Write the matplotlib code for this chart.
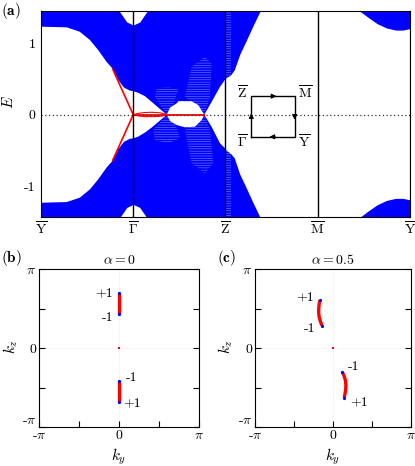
import numpy as np
import matplotlib
matplotlib.use('Agg')
import matplotlib.pyplot as plt

plt.rcParams['font.family'] = 'serif'
plt.rcParams['font.serif'] = ['cmr10']
plt.rcParams['mathtext.fontset'] = 'cm'
plt.rcParams['axes.unicode_minus'] = False
plt.rcParams['hatch.linewidth'] = 0.45
plt.rcParams['font.size'] = 10

# ---------------- (a) slab spectrum along Y-G-Z-M-Y ----------------
k_ticks = [0, 1, 2, 3, 4]
k_labels = [r'$\overline{\mathrm{Y}}$', r'$\overline{\Gamma}$', r'$\overline{\mathrm{Z}}$',
            r'$\overline{\mathrm{M}}$', r'$\overline{\mathrm{Y}}$']

# lower edge of the upper bulk continuum
gap_top_k = [0.0, 0.28, 0.42, 0.53, 0.62, 0.71, 0.78, 0.84, 0.90, 0.96, 1.0,
             1.05, 1.127, 1.2, 1.236, 1.30, 1.363, 1.40, 1.471, 1.49, 1.561, 1.63, 1.705, 1.77,
             1.85, 1.94, 1.995, 2.0, 2.06, 2.10, 2.16, 2.226, 2.30, 2.378, 2.42,
             3.40, 3.458, 3.55, 3.65, 3.75, 3.85, 3.93, 4.0]
gap_top_E = [1.235, 1.225, 1.164, 1.048, 0.907, 0.743, 0.64, 0.48, 0.38, 0.34, 0.33,
             0.31, 0.26, 0.18, 0.14, 0.07, 0.0, 0.10, 0.16, 0.19, 0.19, 0.19, 0.136, 0.0,
             0.18, 0.39, 0.49, 0.50, 0.55, 0.62, 0.84, 1.02, 1.23, 1.44, 1.60,
             1.60, 1.45, 1.36, 1.27, 1.21, 1.18, 1.18, 1.20]
# upper edge of the lower bulk continuum
gap_bot_k = [0.0, 0.28, 0.42, 0.53, 0.62, 0.71, 0.78, 0.84, 0.90, 0.96, 1.0,
             1.05, 1.127, 1.2, 1.236, 1.30, 1.363, 1.40, 1.471, 1.561, 1.669, 1.742, 1.77,
             1.85, 1.94, 1.995, 2.0, 2.06, 2.10, 2.16, 2.226, 2.30, 2.378, 2.42,
             3.40, 3.458, 3.55, 3.65, 3.75, 3.85, 3.93, 4.0]
gap_bot_E = [-1.235, -1.225, -1.164, -1.048, -0.907, -0.743, -0.64, -0.48, -0.38, -0.34, -0.33,
             -0.31, -0.25, -0.18, -0.14, -0.07, 0.0, -0.09, -0.145, -0.177, -0.168, -0.074, 0.0,
             -0.17, -0.40, -0.47, -0.49, -0.55, -0.61, -0.84, -1.02, -1.23, -1.44, -1.60,
             -1.60, -1.45, -1.36, -1.27, -1.21, -1.18, -1.18, -1.20]
# top of the upper continuum / bottom of the lower one (notch at Gamma)
band_top_k = [0.0, 0.80, 0.85, 0.93, 1.0, 1.07, 1.15, 1.20, 4.0]
band_top_E = [1.60, 1.60, 1.45, 1.30, 1.258, 1.30, 1.45, 1.60, 1.60]
band_bot_k = [0.0, 0.80, 0.85, 0.93, 1.0, 1.07, 1.15, 1.20, 4.0]
band_bot_E = [-1.60, -1.60, -1.45, -1.30, -1.258, -1.30, -1.45, -1.60, -1.60]

# striped (finite-slab subband) regions around the nodes
fans = [
    ([1.363, 1.236, 1.254, 1.380, 1.488, 1.434], [0.0, 0.25, 0.37, 0.39, 0.35, 0.14]),
    ([1.363, 1.217, 1.236, 1.380, 1.507, 1.453], [0.0, -0.215, -0.355, -0.40, -0.33, -0.12]),
    ([1.77, 1.561, 1.633, 1.778, 1.850, 1.832], [0.0, 0.25, 0.67, 0.81, 0.72, 0.25]),
    ([1.77, 1.832, 1.868, 1.778, 1.633, 1.561], [0.0, -0.215, -0.68, -0.82, -0.68, -0.215]),
    ([2.0, 2.065, 2.065, 2.0], [-1.6, -1.6, 1.6, 1.6]),
]

# surface states
arc_left_k = [0.777, 1.0, 0.777]
arc_left_E = [0.64, 0.0, -0.64]
lens_up_k = [1.0, 1.05, 1.12, 1.2, 1.28, 1.33, 1.363]
lens_up_E = [0.0, 0.018, 0.030, 0.034, 0.028, 0.016, 0.0]
lens_dn_k = [1.0, 1.05, 1.12, 1.2, 1.28, 1.33, 1.363]
lens_dn_E = [0.0, -0.016, -0.026, -0.028, -0.024, -0.014, 0.0]
flat_k = [1.0, 1.77]
flat_E = [0.0, 0.0]

# inset path G -> Z -> M -> Y -> G
inset_k = [2.28, 2.28, 2.75, 2.75, 2.28]
inset_E = [-0.31, 0.26, 0.26, -0.31, -0.31]
inset_names = [r'$\overline{\Gamma}$', r'$\overline{\mathrm{Z}}$', r'$\overline{\mathrm{M}}$',
               r'$\overline{\mathrm{Y}}$']

# ---------------- (b), (c) Fermi arcs ----------------
b_arcs = [([0.0, 0.0], [2.18, 1.357]), ([0.0, 0.0], [-1.305, -2.128])]
c_arcs = [([-0.526, -0.56, -0.576, -0.577, -0.56, -0.51, -0.447],
           [1.92, 1.75, 1.58, 1.415, 1.25, 1.07, 0.90]),
          ([0.372, 0.45, 0.50, 0.518, 0.51, 0.485, 0.451],
           [-0.954, -1.12, -1.29, -1.459, -1.63, -1.80, -1.976])]
arc_charges = [('+1', '-1'), ('-1', '+1')]

fig = plt.figure(figsize=(4.15, 4.66), dpi=100)

ax = fig.add_axes([0.0988, 0.5343, 0.889, 0.442])
ax.set_facecolor('blue')
for fk, fE in fans:
    ax.fill(fk, fE, facecolor='blue', edgecolor='#6d7bff', hatch='-------', lw=0, zorder=1)
ax.fill(gap_top_k + gap_bot_k[::-1], gap_top_E + gap_bot_E[::-1], color='white', lw=0, zorder=2)
ax.fill_between(band_top_k, band_top_E, 2, color='white', lw=0, zorder=2)
ax.fill_between(band_bot_k, -2, band_bot_E, color='white', lw=0, zorder=2)

ax.plot(arc_left_k, arc_left_E, color='red', lw=1.2, zorder=4)
ax.plot(lens_up_k, lens_up_E, color='red', lw=0.8, zorder=4)
ax.plot(lens_dn_k, lens_dn_E, color='red', lw=0.8, zorder=4)
ax.plot(flat_k, flat_E, color='red', lw=1.3, zorder=4)
ax.axhline(0, color='#333333', ls=(0, (1, 2)), lw=0.9, zorder=5)
for kv in k_ticks[1:-1]:
    ax.axvline(kv, color='black', lw=1.0, zorder=6)

ax.plot(inset_k, inset_E, color='black', lw=1.0, zorder=6)
for i in range(4):
    k0, k1 = inset_k[i], inset_k[i + 1]
    e0, e1 = inset_E[i], inset_E[i + 1]
    km, em = (k0 + k1) / 2, (e0 + e1) / 2
    ax.annotate('', xy=(km + (k1 - k0) * 0.08, em + (e1 - e0) * 0.08),
                xytext=(km - (k1 - k0) * 0.05, em - (e1 - e0) * 0.05),
                arrowprops=dict(arrowstyle='-|>', color='black', lw=0.8, mutation_scale=7,
                                shrinkA=0, shrinkB=0), zorder=7)
ax.text(inset_k[0] - 0.04, inset_E[0] - 0.07, inset_names[0], ha='right', va='center', zorder=7)
ax.text(inset_k[1] - 0.04, inset_E[1] + 0.04, inset_names[1], ha='right', va='center', zorder=7)
ax.text(inset_k[2] + 0.04, inset_E[2] + 0.04, inset_names[2], ha='left', va='center', zorder=7)
ax.text(inset_k[3] + 0.04, inset_E[3] - 0.07, inset_names[3], ha='left', va='center', zorder=7)

ax.set_xlim(0, 4)
ax.set_ylim(-1.435, 1.454)
ax.set_xticks(k_ticks)
ax.set_xticklabels(k_labels)
ax.set_yticks([-1, 0, 1])
ax.set_yticklabels(['-1', '0', '1'])
ax.set_yticks([-0.5, 0.5], minor=True)
ax.tick_params(axis='x', length=0, pad=2)
ax.tick_params(axis='y', which='both', direction='in', left=True, right=True, length=3.5,
               width=0.8, pad=4)
ax.set_ylabel(r'$E$', fontsize=11)
ax.yaxis.set_label_coords(-0.068, 0.56)
for s in ax.spines.values():
    s.set_zorder(8)
fig.text(0.002, 0.997, r'$\mathbf{(a)}$', fontsize=11, ha='left', va='top')

panels = [([0.094, 0.0837, 0.3855, 0.3384], b_arcs, r'$\alpha = 0$', r'$\mathbf{(b)}$', 0.002,
           [[(-6, 0), (-6, -4)], [(7, 3), (4, -2)]], -0.12),
          ([0.6145, 0.0837, 0.376, 0.3384], c_arcs, r'$\alpha = 0.5$', r'$\mathbf{(c)}$', 0.522,
           [[(-6, 3), (-6, -3)], [(6, 5), (6, -4)]], -0.13)]
for rect, arcs, title, tag, tagx, offsets, ylx in panels:
    bx = fig.add_axes(rect)
    bx.axhline(0, color='#e2dcdc', ls=(0, (1, 1.5)), lw=0.5, zorder=1)
    bx.axvline(0, color='#e2dcdc', ls=(0, (1, 1.5)), lw=0.5, zorder=1)
    for (ky, kz), ch, off in zip(arcs, arc_charges, offsets):
        bx.plot(ky, kz, color='red', lw=2.4, solid_capstyle='butt', zorder=3)
        bx.plot([ky[0], ky[-1]], [kz[0], kz[-1]], 'o', color='blue', ms=2.3, mew=0, zorder=4)
        for j, idx in enumerate([0, -1]):
            ha = 'right' if off[j][0] < 0 else 'left'
            bx.annotate(ch[j], (ky[idx], kz[idx]), xytext=off[j], textcoords='offset pixels',
                        ha=ha, va='center', fontsize=10)
    bx.plot([0], [0], 's', color='red', ms=1.8, mew=0, zorder=4)
    bx.set_xlim(-np.pi, np.pi)
    bx.set_ylim(-np.pi, np.pi)
    bx.set_xticks([-np.pi, 0, np.pi])
    bx.set_xticklabels([r'-$\pi$', '0', r'$\pi$'])
    bx.set_yticks([-np.pi, 0, np.pi])
    bx.set_yticklabels([r'-$\pi$', '0', r'$\pi$'])
    bx.set_xticks([-np.pi / 2, np.pi / 2], minor=True)
    bx.set_yticks([-np.pi / 2, np.pi / 2], minor=True)
    bx.tick_params(which='both', direction='in', left=True, right=True, bottom=True, top=False,
                   length=4, width=0.8, pad=2)
    bx.get_yticklabels()[0].set_va('bottom')
    bx.set_xlabel(r'$k_y$', fontsize=11)
    bx.set_ylabel(r'$k_z$', fontsize=11)
    bx.xaxis.set_label_coords(0.5, -0.125)
    bx.yaxis.set_label_coords(ylx, 0.51)
    bx.set_title(title, fontsize=10, pad=4)
    fig.text(tagx, 0.468, tag, fontsize=11, ha='left', va='top')

fig.savefig('out.png', dpi=100)
